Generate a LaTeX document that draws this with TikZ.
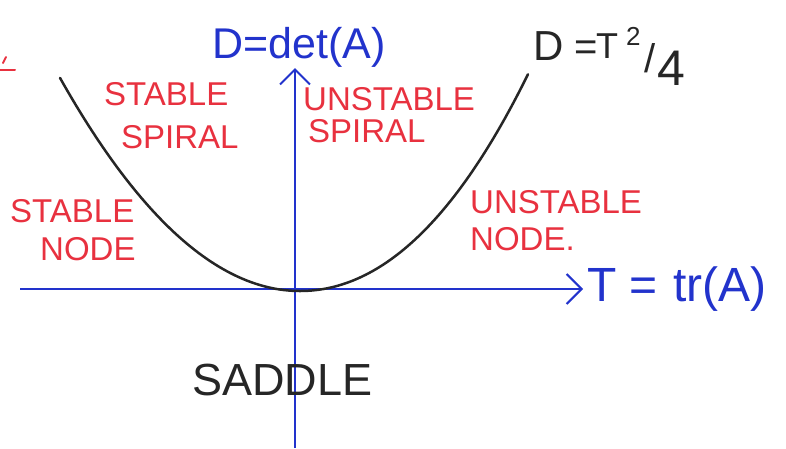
\documentclass[tikz,border=0pt]{standalone}
\usepackage{fontspec}
\setmainfont{Liberation Sans}
\usetikzlibrary{arrows.meta}
\definecolor{penred}{HTML}{E8313F}
\definecolor{penblue}{HTML}{2233CC}
\definecolor{penblack}{HTML}{262626}
\tikzset{
  axisline/.style={penblue, line width=2pt, -{Straight Barb[length=15pt, width=30pt, line width=2pt]}},
  curveline/.style={penblack, line width=2.5pt, line cap=round},
  redlabel/.style={text=penred, font=\fontsize{33}{36}\selectfont, inner sep=0pt, anchor=base west},
  bluelabel/.style={text=penblue, inner sep=0pt, anchor=base west},
  blacklabel/.style={text=penblack, inner sep=0pt, anchor=base west},
}
\begin{document}
\begin{tikzpicture}[x=1pt,y=-1pt]
\useasboundingbox (0,0) rectangle (786,448);
% axes
\coordinate (xl) at (20,289);
\coordinate (xr) at (583,289);
\coordinate (yb) at (295,448);
\coordinate (yt) at (295,68);
\draw[axisline] (xl) -- (xr);
\draw[axisline] (yb) -- (yt);
% parabola D = T^2/4  (variable u = dx/100)
\draw[curveline] plot[domain=-2.40:0, samples=60] ({300+100*\x},{291-37*\x*\x});
\draw[curveline] plot[domain=0:2.28, samples=60] ({300+100*\x},{291-36*\x*\x-2.5*\x*\x*\x});
% axis labels
\node[bluelabel, font=\fontsize{43}{45}\selectfont] (dlab) at (212,58) {D=det(A)};
\node[bluelabel, font=\fontsize{48}{50}\selectfont] (tlab) at (587,301) {T\hspace{13pt}=\hspace{16pt}tr(A)};
% curve label D = T^2/4
\node[blacklabel, font=\fontsize{42}{44}\selectfont] (clD) at (533,60) {D};
\node[blacklabel, font=\fontsize{40}{42}\selectfont] (clEq) at (574,60) {=};
\node[blacklabel, font=\fontsize{36}{38}\selectfont] (clT) at (596,58) {T};
\node[blacklabel, font=\fontsize{26}{28}\selectfont] (clSq) at (626,45) {2};
\node[blacklabel, font=\fontsize{40}{42}\selectfont] (clSl) at (644,72) {/};
\node[blacklabel, font=\fontsize{50}{52}\selectfont] (clF) at (657,85) {4};
% region labels
\node[redlabel] (ss1) at (104,105) {STABLE};
\node[redlabel] (ss2) at (121,148) {SPIRAL};
\node[redlabel] (us1) at (303,110) {UNSTABLE};
\node[redlabel] (us2) at (308,142) {SPIRAL};
\node[redlabel] (sn1) at (10,222) {STABLE};
\node[redlabel] (sn2) at (40,260) {NODE};
\node[redlabel] (un1) at (470,213) {UNSTABLE};
\node[redlabel] (un2) at (470,250) {NODE.};
\node[blacklabel, font=\fontsize{45}{47}\selectfont] (sad) at (192,395) {SADDLE};
% cut-off red mark at left edge
\draw[penred, line width=2pt, line cap=round] (0,70) -- (15,70);
\draw[penred, line width=2pt, line cap=round] (3,63) -- (6,57);
\end{tikzpicture}
\end{document}
